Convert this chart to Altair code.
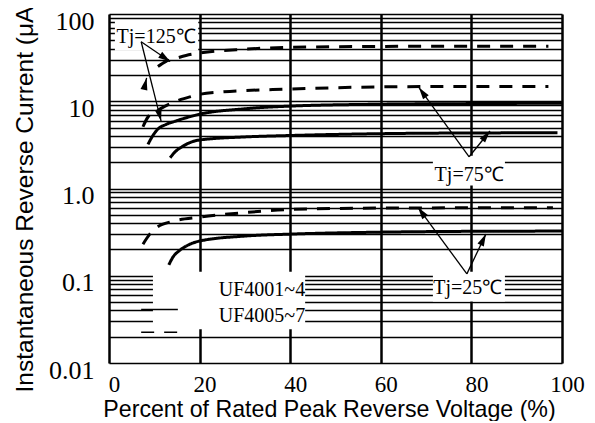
import math
import altair as alt
import pandas as pd

# ---------------- data ----------------
# curves: (percent of rated voltage, reverse current uA)
d125_x = [10.8, 12.5, 14.6, 17, 20, 30, 40, 60, 80, 97]
d125_y = [25, 28.5, 30.8, 33.5, 35.7, 39.5, 41.5, 42.5, 42.8, 42.8]
s125_x = [8.6, 9.5, 10.8, 12.5, 14.6, 20, 30, 40, 60, 80, 100]
s125_y = [3.2, 3.9, 4.8, 5.4, 5.9, 7.1, 8.2, 8.8, 9.25, 9.4, 9.5]
d75_x = [7.5, 8.6, 10.8, 12.4, 15.9, 18.1, 20, 25, 40, 60, 80, 97]
d75_y = [5.1, 6.6, 7.9, 8.8, 10.5, 11.3, 12.0, 12.8, 13.8, 14.6, 14.8, 14.8]
s75_x = [13.5, 14.5, 16.3, 20, 30, 40, 60, 80, 99]
s75_y = [2.25, 2.6, 3.05, 3.6, 3.9, 4.05, 4.25, 4.33, 4.35]
d25_x = [7.5, 9, 10.6, 14, 20, 30, 40, 60, 80, 98]
d25_y = [0.23, 0.3, 0.36, 0.42, 0.47, 0.53, 0.575, 0.597, 0.6, 0.6]
s25_x = [13.2, 14, 15.7, 17.5, 20, 30, 40, 60, 80, 100]
s25_y = [0.133, 0.16, 0.197, 0.225, 0.25, 0.285, 0.30, 0.316, 0.323, 0.325]

x_ticks = [0, 20, 40, 60, 80, 100]
y_decades = [0.01, 0.1, 1, 10, 100]
y_labels = ["0.01", "0.1", "1.0", "10", "100"]
y_grid = sorted(set([round(m * d, 6) for d in [0.01, 0.1, 1, 10] for m in range(1, 10)] + [100]))

# temperature labels (centered) and series labels (right aligned)
tj_text = ["Tj=125\u2103", "Tj=75\u2103", "Tj=25\u2103"]
tj_x = [10.4, 79.5, 79.2]
tj_y = [54.8, 1.44, 0.0731]
series_names = ["UF4001~4", "UF4005~7"]
series_x = [43.3, 43.3]
series_y = [0.0693, 0.0342]

# white boxes behind labels
box_x = [1.3, 71.5, 71.5, 9.7]
box_x2 = [19.7, 87.4, 87.4, 43.3]
box_y = [85.4, 2.37, 0.111, 0.111]
box_y2 = [38.0, 1.08, 0.0507, 0.0243]

# arrows: tail (x, y) -> head (x2, y2)
arr_x = [7.1, 7.1, 7.9, 79.5, 79.5, 79.0, 79.0]
arr_y = [48.1, 48.1, 15.0, 2.31, 2.31, 0.105, 0.105]
arr_x2 = [13.5, 11.5, 8.3, 68.4, 84.1, 68.2, 83.2]
arr_y2 = [28.5, 5.93, 18.5, 14.4, 4.56, 0.608, 0.30]

# legend samples
leg_x = [7.1, 7.1]
leg_x2 = [15.2, 15.2]
leg_y = [0.0411, 0.0225]

W, H = 453, 349

# ---------------- tables ----------------
rows = []
for cid, style, xs, ys in [
    ("d125", "dashed", d125_x, d125_y), ("s125", "solid", s125_x, s125_y),
    ("d75", "dashed", d75_x, d75_y), ("s75", "solid", s75_x, s75_y),
    ("d25", "dashed", d25_x, d25_y), ("s25", "solid", s25_x, s25_y)]:
    for i, (a, b) in enumerate(zip(xs, ys)):
        rows.append({"x": a, "y": b, "curve": cid, "style": style, "order": i})
curves = pd.DataFrame(rows)


def px(v):
    return v / 100 * W


def py(v):
    return (2 - math.log10(v)) / 4 * H


arrows = pd.DataFrame({"x": arr_x, "y": arr_y, "x2": arr_x2, "y2": arr_y2})
arrows["angle"] = [
    math.degrees(math.atan2(px(x2) - px(x1), -(py(y2) - py(y1)))) % 360
    for x1, y1, x2, y2 in zip(arr_x, arr_y, arr_x2, arr_y2)
]
tj = pd.DataFrame({"text": tj_text, "x": tj_x, "y": tj_y})
ser = pd.DataFrame({"text": series_names, "x": series_x, "y": series_y})
boxes = pd.DataFrame({"x": box_x, "x2": box_x2, "y": box_y, "y2": box_y2})
legend = pd.DataFrame({"x": leg_x, "x2": leg_x2, "y": leg_y, "style": ["solid", "dashed"]})

label_expr = " : ".join(
    f"datum.value == {v} ? '{t}'" for v, t in zip(y_decades, y_labels)) + " : ''"

xscale = alt.Scale(domain=[0, 100], nice=False, zero=False)
yscale = alt.Scale(type="log", domain=[0.01, 100], nice=False)

x_axis = alt.Axis(
    values=x_ticks, grid=True, gridColor="black", gridWidth=2.5, gridOpacity=1,
    domain=False, ticks=False, labelFont="Liberation Serif", labelFontSize=23,
    labelColor="black", labelPadding=10, labelFlush=False, labelOffset=5,
    labelBaseline="top",
    title="Percent of Rated Peak Reverse Voltage (%)", titleFont="Liberation Sans",
    titleFontSize=23.2, titleFontWeight="normal", titleColor="black",
    titleX=220, titleY=46, titleBaseline="middle", titleAlign="center")
y_axis = alt.Axis(
    values=y_grid, grid=True, gridColor="black", gridWidth=1.7, gridOpacity=1,
    domain=False, ticks=False, labelFont="Liberation Serif", labelFontSize=26,
    labelColor="black", labelPadding=15, labelExpr=label_expr, labelOverlap=False,
    labelBaseline="middle", labelOffset=7, labelFlush=False,
    title="Instantaneous Reverse Current (\u03bcA", titleFont="Liberation Sans",
    titleFontSize=24.5, titleFontWeight="normal", titleColor="black",
    titleX=-84, titleY=185, titleAngle=270, titleBaseline="middle", titleAlign="center")

base_lines = alt.Chart(curves).mark_line(strokeWidth=3, color="black", interpolate="monotone").encode(
    x=alt.X("x:Q", scale=xscale, axis=x_axis),
    y=alt.Y("y:Q", scale=yscale, axis=y_axis),
    detail="curve:N",
    order="order:Q",
    strokeDash=alt.StrokeDash("style:N", scale=alt.Scale(domain=["solid", "dashed"], range=[[1, 0], [13, 10]]), legend=None),
)

box_layer = alt.Chart(boxes).mark_rect(color="white").encode(
    x=alt.X("x:Q", scale=xscale), x2="x2:Q",
    y=alt.Y("y:Q", scale=yscale), y2="y2:Q")

tj_layer = alt.Chart(tj).mark_text(font="Liberation Serif", fontSize=20, color="black",
                                   baseline="middle", align="center").encode(
    x=alt.X("x:Q", scale=xscale), y=alt.Y("y:Q", scale=yscale), text="text:N")

ser_layer = alt.Chart(ser).mark_text(font="Liberation Serif", fontSize=20, color="black",
                                     baseline="middle", align="right").encode(
    x=alt.X("x:Q", scale=xscale), y=alt.Y("y:Q", scale=yscale), text="text:N")

arrow_lines = alt.Chart(arrows).mark_rule(color="black", strokeWidth=1.3).encode(
    x=alt.X("x:Q", scale=xscale), y=alt.Y("y:Q", scale=yscale), x2="x2:Q", y2="y2:Q")

arrow_heads = alt.Chart(arrows).mark_point(
    shape="M0,0L0.32,1.1L-0.32,1.1Z", filled=True, color="black", opacity=1, size=480, strokeWidth=0).encode(
    x=alt.X("x2:Q", scale=xscale), y=alt.Y("y2:Q", scale=yscale),
    angle=alt.Angle("angle:Q", scale=None))

legend_lines = alt.Chart(legend).mark_rule(color="black", strokeWidth=1.4).encode(
    x=alt.X("x:Q", scale=xscale), x2="x2:Q", y=alt.Y("y:Q", scale=yscale),
    strokeDash=alt.StrokeDash("style:N", scale=alt.Scale(domain=["solid", "dashed"], range=[[1, 0], [5, 4]]), legend=None))

chart = alt.layer(base_lines, box_layer, tj_layer, ser_layer, arrow_lines, arrow_heads, legend_lines).properties(
    width=W, height=H,
    autosize=alt.AutoSizeParams(type="none"),
    padding={"left": 101, "top": 6, "right": 25, "bottom": 58},
).configure_view(stroke="black", strokeWidth=2).configure(background="white")

chart.save("out.html", embed_options={"renderer": "svg", "actions": False})
